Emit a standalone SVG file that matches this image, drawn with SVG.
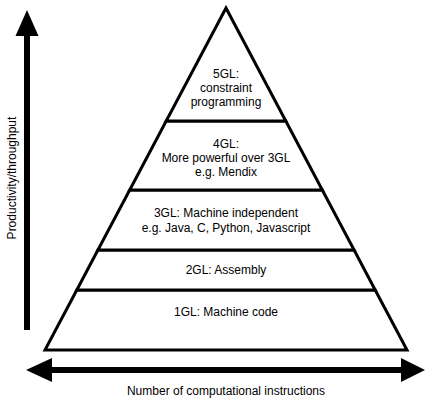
<svg xmlns="http://www.w3.org/2000/svg" width="439" height="401" viewBox="0 0 439 401">
<style>
.lvl{fill:#fff;stroke:#000;stroke-width:3;stroke-linejoin:miter}
.t{font-family:"Liberation Sans",Arial,sans-serif;font-size:12px;fill:#000;text-anchor:middle;dominant-baseline:central}
.ax{stroke:#000;stroke-width:6;fill:none}
.ah{fill:#000;stroke:none}
</style>
<rect width="439" height="401" fill="#fff"/>
<g id="level-1gl"><polygon class="lvl" points="76.8,290 375.2,290 407,350 45,350"/><text class="t" x="226" y="312">1GL: Machine code</text></g>
<g id="level-2gl"><polygon class="lvl" points="97.9,250 354.1,250 375.2,290 76.8,290"/><text class="t" x="226" y="270">2GL: Assembly</text></g>
<g id="level-3gl"><polygon class="lvl" points="129.7,190 322.3,190 354.1,250 97.9,250"/><text class="t" x="226" y="213">3GL: Machine independent</text><text class="t" x="226" y="228">e.g. Java, C, Python, Javascript</text></g>
<g id="level-4gl"><polygon class="lvl" points="166.2,121 285.8,121 322.3,190 129.7,190"/><text class="t" x="226" y="144">4GL:</text><text class="t" x="226" y="158">More powerful over 3GL</text><text class="t" x="226" y="172">e.g. Mendix</text></g>
<g id="level-5gl"><polygon class="lvl" points="226,8 285.8,121 166.2,121"/><text class="t" x="226" y="74">5GL:</text><text class="t" x="226" y="88">constraint</text><text class="t" x="226" y="102">programming</text></g>
<g id="connectors">
<g id="axis-y"><line class="ax" x1="27" y1="330" x2="27" y2="32"/><polygon class="ah" points="27,10 38.5,36 15.5,36"/></g>
<g id="axis-x"><line class="ax" x1="48" y1="370" x2="405" y2="370"/><polygon class="ah" points="26,370 52,358 52,382"/><polygon class="ah" points="425,370 401,358 401,382"/></g>
</g>
<text class="t" transform="translate(12,178) rotate(-90)" x="0" y="0">Productivity/throughput</text>
<text class="t" x="226" y="391">Number of computational instructions</text>
</svg>
